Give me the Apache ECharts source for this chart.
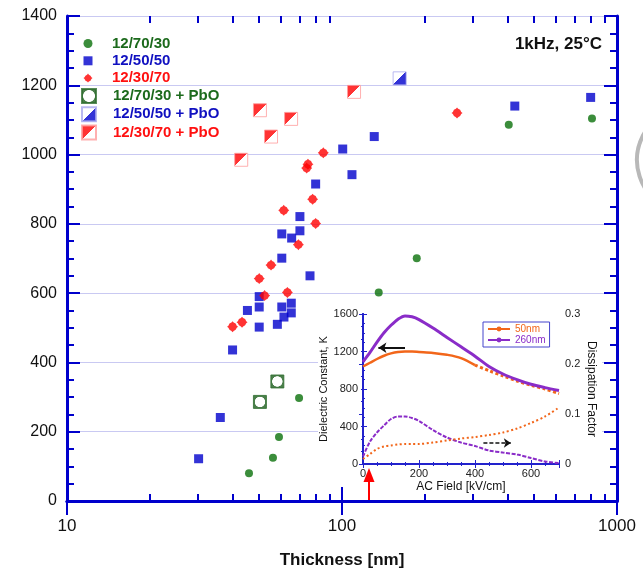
<!DOCTYPE html>
<html><head><meta charset="utf-8">
<script src="https://cdn.jsdelivr.net/npm/echarts@6/dist/echarts.min.js"></script>
<style>html,body{margin:0;padding:0;background:#fff}#c{width:643px;height:574px}</style>
</head><body><div id="c"></div>
<script>
// ---------- main chart data (thickness nm, dielectric constant K) ----------
const green7030X = [45.9, 56.1, 59.0, 69.8, 136, 187, 404, 811];
const green7030Y = [80, 125, 185, 297, 602, 701, 1086, 1104];
const blue5050X = [30.1, 36.1, 40.0, 45.3, 50.0, 50.0, 50.0, 58.2, 60.4, 61.5, 65.4, 65.4, 60.4, 60.4, 65.6, 70.3, 70.3, 76.5, 80.2, 100.6, 108.7, 131, 425, 802];
const blue5050Y = [122, 241, 436, 550, 502, 560, 590, 510, 560, 531, 543, 571, 701, 771, 759, 780, 821, 650, 915, 1016, 942, 1052, 1140, 1165];
const red3070X = [40.0, 43.3, 50.0, 52.3, 55.2, 61.4, 63.3, 69.4, 74.4, 75.2, 78.2, 80.2, 85.5, 262];
const red3070Y = [503, 516, 642, 593, 681, 839, 602, 740, 961, 972, 871, 801, 1005, 1120];
const greenPbOX = [50.3, 58.2];
const greenPbOY = [286, 345];
const bluePbOX = [162];
const bluePbOY = [1220];
const redPbOX = [43.0, 50.3, 55.2, 65.3, 110.6];
const redPbOY = [985, 1128, 1052, 1103, 1181];
const seriesNames = ['12/70/30', '12/50/50', '12/30/70', '12/70/30 + PbO', '12/50/50 + PbO', '12/30/70 + PbO'];
const yTicks = [0, 1400, 200];      // min, max, step
const xTicksMinor = [20, 30, 40, 50, 60, 70, 80, 90, 200, 300, 400, 500, 600, 700, 800, 900];

// ---------- inset data (AC field kV/cm) ----------
const fieldKV = [0, 25, 50, 75, 100, 125, 150, 175, 200, 250, 300, 350, 400, 450, 500, 550, 600, 650, 700];
const k260 = [1090, 1190, 1300, 1400, 1480, 1545, 1580, 1570, 1540, 1450, 1350, 1250, 1150, 1040, 960, 900, 850, 815, 785];
const k50 = [1040, 1080, 1120, 1155, 1180, 1195, 1200, 1200, 1195, 1185, 1165, 1130, 1055, 995, 940, 885, 840, 800, 750];
const df260 = [0.015, 0.045, 0.063, 0.077, 0.09, 0.095, 0.095, 0.092, 0.086, 0.068, 0.053, 0.043, 0.036, 0.027, 0.023, 0.019, 0.012, 0.005, 0.002];
const df50 = [0.01, 0.02, 0.03, 0.035, 0.037, 0.039, 0.04, 0.04, 0.04, 0.043, 0.047, 0.051, 0.054, 0.058, 0.063, 0.071, 0.082, 0.095, 0.113];
const insetNames = ['50nm', '260nm'];
const solidUntil = 400;

const zip = (a, b) => a.map((v, i) => [v, b[i]]);
const FONT = 'Liberation Sans, Arial, Helvetica, sans-serif';
const BLUE = '#0000cc', GREEN = '#0a700a', RED = '#ff0000';
const ORANGE = '#f2661a', PURPLE = '#8a2cc8';
const AX = '#0000cc';
const plain = v => String(v);

const sq = 'path://M0,0 L10,0 L10,10 L0,10 Z';
const redSym = 'path://M5,0 L6,1.2 A3.93,3.93 0 0 1 8.8,4 L10,5 L8.8,6 A3.93,3.93 0 0 1 6,8.8 L5,10 L4,8.8 A3.93,3.93 0 0 1 1.2,6 L0,5 L1.2,4 A3.93,3.93 0 0 1 4,1.2 Z';
const grad = (c1, c2) => ({type: 'linear', x: 0, y: 0, x2: 1, y2: 1, colorStops: [
  {offset: 0, color: c1}, {offset: 0.5, color: c1}, {offset: 0.5, color: c2}, {offset: 1, color: c2}]});
const ring = {type: 'radial', x: 0.5, y: 0.5, r: 0.5, colorStops: [
  {offset: 0, color: '#fff'}, {offset: 0.7, color: '#fff'}, {offset: 0.78, color: '#1d5e1d'}, {offset: 1, color: '#1d5e1d'}]};

const cut = fieldKV.indexOf(solidUntil);
const k50Pts = zip(fieldKV, k50);

const mainAxisCommon = {type: 'log', logBase: 10, min: 10, max: 1000, gridIndex: 0, z: 3, splitLine: {show: false}};
const insetTick = {inside: true, length: 4, lineStyle: {color: '#2222cc'}};
const insetMinor = {show: true, splitNumber: 4, length: 2, lineStyle: {color: '#2222cc'}};
const legendText = {fontSize: 15, fontWeight: 'bold', lineHeight: 15, fontFamily: FONT};
const option = {
  animation: false,
  backgroundColor: '#fff',
  textStyle: {fontFamily: FONT},
  title: {text: '1kHz, 25°C', right: 41, top: 36, padding: 0,
    textStyle: {fontSize: 17, fontWeight: 'bold', color: '#111', fontFamily: FONT}},
  grid: [
    {left: 67, right: 26, top: 16, bottom: 67},
    {left: 363, top: 314, width: 196, height: 150}
  ],
  legend: [
    {orient: 'vertical', left: 83.5, top: 36, padding: 0, itemWidth: 38, itemHeight: 9, itemGap: 2.3,
      textStyle: legendText,
      data: [
        {name: seriesNames[0], textStyle: {color: '#1c6a1c'}},
        {name: seriesNames[1], textStyle: {color: '#1010c0'}},
        {name: seriesNames[2], textStyle: {color: '#ff1010'}}
      ]},
    {orient: 'vertical', left: 81, top: 88, padding: 0, itemWidth: 38, itemHeight: 14, itemGap: 2.3,
      textStyle: legendText,
      data: [
        {name: seriesNames[3], textStyle: {color: '#1c6a1c'}},
        {name: seriesNames[4], textStyle: {color: '#1010c0'}},
        {name: seriesNames[5], textStyle: {color: '#ff1010'}}
      ]},
    {orient: 'vertical', left: 483, top: 322, padding: [2, 4], itemWidth: 22, itemHeight: 6, itemGap: 1,
      borderColor: '#4444cc', borderWidth: 1, backgroundColor: '#fff', z: 8,
      textStyle: {fontSize: 10, lineHeight: 10, fontFamily: FONT},
      data: [
        {name: insetNames[0], textStyle: {color: ORANGE}},
        {name: insetNames[1], textStyle: {color: PURPLE}}
      ]}
  ],
  xAxis: [
    Object.assign({}, mainAxisCommon, {position: 'bottom',
      axisLine: {lineStyle: {color: AX, width: 3}},
      axisTick: {inside: true, length: 14, lineStyle: {color: AX, width: 2}},
      axisLabel: {color: '#111', fontSize: 17, margin: 17, fontFamily: FONT, formatter: plain},
      name: 'Thickness [nm]', nameLocation: 'middle', nameGap: 51,
      nameTextStyle: {fontSize: 17, fontWeight: 'bold', color: '#111', fontFamily: FONT}}),
    Object.assign({}, mainAxisCommon, {position: 'bottom',
      axisLine: {show: false}, axisLabel: {show: false},
      axisTick: {inside: true, length: 7, customValues: xTicksMinor, lineStyle: {color: AX, width: 2}}}),
    Object.assign({}, mainAxisCommon, {position: 'top',
      axisLine: {lineStyle: {color: AX, width: 3}}, axisLabel: {show: false},
      axisTick: {inside: true, length: 14, lineStyle: {color: AX, width: 2}}}),
    Object.assign({}, mainAxisCommon, {position: 'top',
      axisLine: {show: false}, axisLabel: {show: false},
      axisTick: {inside: true, length: 7, customValues: xTicksMinor, lineStyle: {color: AX, width: 2}}}),
    {type: 'value', gridIndex: 1, min: 0, max: 700, interval: 200, position: 'bottom', z: 6,
      axisLine: {lineStyle: {color: '#2222cc', width: 2}},
      axisTick: insetTick, minorTick: insetMinor, splitLine: {show: false},
      axisLabel: {color: '#222', fontSize: 11, margin: 4, fontFamily: FONT, formatter: v => (v % 200 === 0 ? String(v) : '')},
      name: 'AC Field [kV/cm]', nameLocation: 'middle', nameGap: 17,
      nameTextStyle: {fontSize: 12, color: '#111', fontFamily: FONT}},
    {type: 'value', gridIndex: 1, min: 0, max: 700, interval: 200, position: 'top', z: 6,
      axisLine: {lineStyle: {color: '#2222cc', width: 2}},
      axisTick: insetTick, minorTick: insetMinor, splitLine: {show: false}, axisLabel: {show: false}}
  ],
  yAxis: [
    {type: 'value', gridIndex: 0, min: yTicks[0], max: yTicks[1], interval: yTicks[2], position: 'left', z: 3,
      axisLine: {lineStyle: {color: AX, width: 3}},
      axisTick: {inside: true, length: 13, lineStyle: {color: AX, width: 2}},
      minorTick: {show: true, splitNumber: 4, length: 7, lineStyle: {color: AX, width: 2}},
      splitLine: {show: false},
      axisLabel: {color: '#111', fontSize: 16, margin: 10, fontFamily: FONT, formatter: plain}},
    {type: 'value', gridIndex: 0, min: yTicks[0], max: yTicks[1], interval: yTicks[2], position: 'right', z: 3,
      axisLine: {lineStyle: {color: AX, width: 3}},
      axisTick: {inside: true, length: 13, lineStyle: {color: AX, width: 2}},
      minorTick: {show: true, splitNumber: 4, length: 7, lineStyle: {color: AX, width: 2}},
      splitLine: {show: false}, axisLabel: {show: false}},
    {type: 'value', gridIndex: 0, min: yTicks[0], max: yTicks[1], interval: yTicks[2], z: 0,
      axisLine: {show: false}, axisTick: {show: false}, axisLabel: {show: false},
      splitLine: {show: true, lineStyle: {color: '#c9c9f2', width: 1}}},
    {type: 'value', gridIndex: 1, min: 0, max: 1600, interval: 400, position: 'left', z: 6,
      axisLine: {lineStyle: {color: '#2222cc', width: 2}},
      axisTick: insetTick, minorTick: insetMinor, splitLine: {show: false},
      axisLabel: {color: '#222', fontSize: 11, margin: 5, fontFamily: FONT, formatter: plain},
      name: 'Dielectric Constant, K', nameLocation: 'middle', nameGap: 26, nameRotate: 90,
      nameTextStyle: {fontSize: 11, color: '#111', fontFamily: FONT}},
    {type: 'value', gridIndex: 1, min: 0, max: 0.3, interval: 0.1, position: 'right', z: 6,
      axisLine: {lineStyle: {color: '#2222cc', width: 2}},
      axisTick: insetTick, minorTick: insetMinor, splitLine: {show: false},
      axisLabel: {color: '#222', fontSize: 11, margin: 6, fontFamily: FONT},
      name: 'Dissipation Factor', nameLocation: 'middle', nameGap: 26, nameRotate: -90,
      nameTextStyle: {fontSize: 12, color: '#111', fontFamily: FONT}}
  ],
  graphic: [
    {type: 'rect', shape: {x: 318, y: 303, width: 284, height: 190}, style: {fill: '#fff'}, z: 1, silent: true},
    {type: 'arc', shape: {cx: 690, cy: 160, r: 53, startAngle: Math.PI - 1.1, endAngle: Math.PI + 1.1},
      style: {stroke: '#b8b8b8', lineWidth: 4, fill: null}, z: 1, silent: true},
    {type: 'group', z: 20, silent: true, children: [
      {type: 'line', shape: {x1: 369, y1: 500, x2: 369, y2: 480}, style: {stroke: '#ff0000', lineWidth: 2}, z: 20},
      {type: 'polygon', shape: {points: [[369, 468], [363.5, 482], [374.5, 482]]}, style: {fill: '#ff0000'}, z: 20}
    ]}
  ],
  series: [
    {type: 'scatter', name: seriesNames[0], xAxisIndex: 0, yAxisIndex: 0, z: 4,
      data: zip(green7030X, green7030Y), symbol: 'circle', symbolSize: 8, itemStyle: {color: GREEN}},
    {type: 'scatter', name: seriesNames[1], xAxisIndex: 0, yAxisIndex: 0, z: 4,
      data: zip(blue5050X, blue5050Y), symbol: sq, symbolSize: 9, itemStyle: {color: BLUE}},
    {type: 'scatter', name: seriesNames[2], xAxisIndex: 0, yAxisIndex: 0, z: 4,
      data: zip(red3070X, red3070Y), symbol: redSym, symbolSize: 11, itemStyle: {color: RED}},
    {type: 'scatter', name: seriesNames[3], xAxisIndex: 0, yAxisIndex: 0, z: 4,
      data: zip(greenPbOX, greenPbOY), symbol: sq, symbolSize: 13,
      itemStyle: {color: ring, borderColor: '#2e6e2e', borderWidth: 1}},
    {type: 'scatter', name: seriesNames[4], xAxisIndex: 0, yAxisIndex: 0, z: 4,
      data: zip(bluePbOX, bluePbOY), symbol: sq, symbolSize: 13,
      itemStyle: {color: grad('#ffffff', BLUE), borderColor: '#a8a8ee', borderWidth: 1}},
    {type: 'scatter', name: seriesNames[5], xAxisIndex: 0, yAxisIndex: 0, z: 4,
      data: zip(redPbOX, redPbOY), symbol: sq, symbolSize: 13,
      itemStyle: {color: grad(RED, '#ffffff'), borderColor: '#ff9c9c', borderWidth: 1}},
    // inset
    {type: 'line', name: insetNames[0], xAxisIndex: 4, yAxisIndex: 3, z: 7, smooth: 0.3, symbol: 'none',
      data: k50Pts.slice(0, cut + 1), lineStyle: {color: ORANGE, width: 2.5}, itemStyle: {color: ORANGE}},
    {type: 'line', name: insetNames[0], xAxisIndex: 4, yAxisIndex: 3, z: 7, smooth: 0.3, symbol: 'none',
      data: k50Pts.slice(cut), lineStyle: {color: ORANGE, width: 3, type: [3, 2.5]}, itemStyle: {color: ORANGE}},
    {type: 'line', name: insetNames[1], xAxisIndex: 4, yAxisIndex: 3, z: 7, smooth: 0.3, symbol: 'none',
      data: zip(fieldKV, k260), lineStyle: {color: PURPLE, width: 3}, itemStyle: {color: PURPLE},
      markLine: {silent: true, symbol: ['none', 'arrow'], symbolSize: 8, label: {show: false},
        lineStyle: {color: '#111', width: 2, type: 'solid'},
        data: [[{coord: [150, 1240]}, {coord: [55, 1240]}]]}},
    {type: 'line', name: insetNames[1], xAxisIndex: 4, yAxisIndex: 4, z: 7, smooth: 0.3, symbol: 'none',
      data: zip(fieldKV, df260), lineStyle: {color: PURPLE, width: 2, type: [4, 1.5]}, itemStyle: {color: PURPLE}},
    {type: 'line', name: insetNames[0], xAxisIndex: 4, yAxisIndex: 4, z: 7, smooth: 0.3, symbol: 'none',
      data: zip(fieldKV, df50), lineStyle: {color: ORANGE, width: 2, type: [2, 2.5]}, itemStyle: {color: ORANGE},
      markLine: {silent: true, symbol: ['none', 'arrow'], symbolSize: 7, label: {show: false},
        lineStyle: {color: '#111', width: 1.5, type: [4, 2]},
        data: [[{coord: [430, 0.042]}, {coord: [528, 0.042]}]]}}
  ]
};
const chart = echarts.init(document.getElementById('c'), null, {renderer: 'canvas'});
chart.setOption(option);
</script></body></html>
